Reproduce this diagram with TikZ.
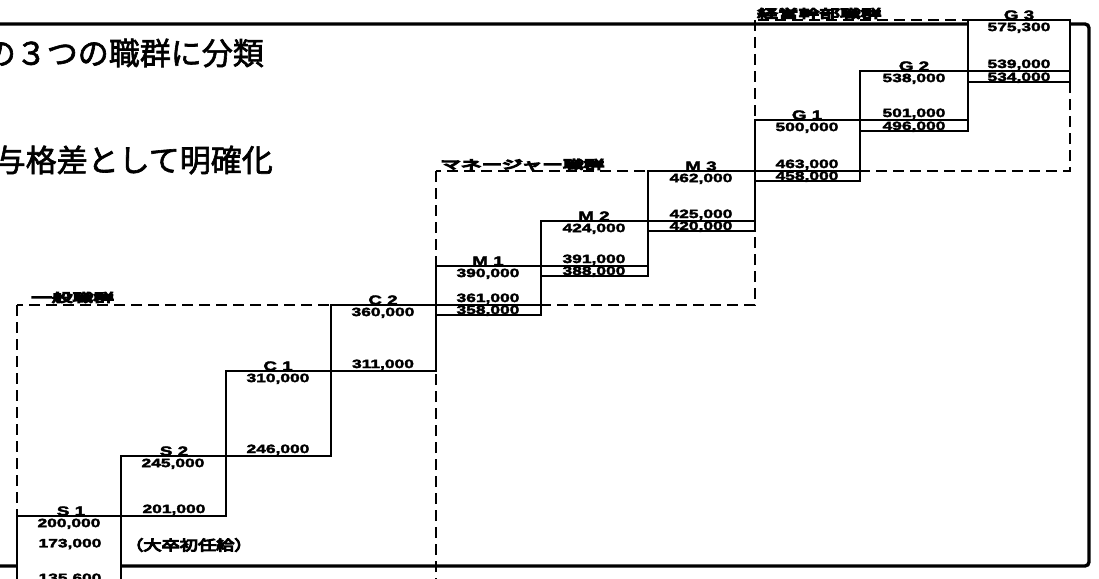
\documentclass[tikz,border=0pt]{standalone}
\usepackage{fontspec}
\newfontfamily\numfont[FakeStretch=1.45,FakeBold=3]{Liberation Sans}
\newfontfamily\jptitle[FakeBold=2]{Noto Sans CJK JP}
\newfontfamily\jpgrp[FakeStretch=1.8,FakeBold=12]{Noto Sans CJK JP}
\newfontfamily\jpnote[FakeStretch=1.3,FakeBold=8]{Noto Sans CJK JP}
\begin{document}
\begin{tikzpicture}[x=1pt,y=-1pt,
  frame/.style={draw=black,line width=3.4pt},
  grpbox/.style={draw=black,line width=2.6pt,dash pattern=on 11pt off 6pt},
  stepbox/.style={draw=black,fill=white,line width=2.9pt},
  innerline/.style={draw=black,line width=2.2pt},
  num/.style={font=\numfont\bfseries\fontsize{12}{12}\selectfont,inner sep=0pt},
  gradelbl/.style={font=\numfont\bfseries\fontsize{13}{13}\selectfont,inner sep=0pt,anchor=base},
  maxlbl/.style={num,anchor=north},
  minlbl/.style={num,anchor=base},
  grplbl/.style={font=\jpgrp\fontsize{11.5}{11.5}\selectfont,inner sep=0pt,anchor=south west},
  titlelbl/.style={font=\jptitle\fontsize{31}{31}\selectfont,inner sep=0pt,anchor=east},
  notelbl/.style={font=\jpnote\fontsize{14}{14}\selectfont,inner sep=0pt,anchor=west}]
\useasboundingbox (0,0) rectangle (1099,578);
\clip (0,0) rectangle (1099,578);
\fill[white] (0,0) rectangle (1099,578);

% title text (cut at left edge, as in the reference)
\node[titlelbl] (title1) at (264,53) {の３つの職群に分類};
\node[titlelbl] (title2) at (273,160) {与格差として明確化};

% outer frame
\draw[frame,rounded corners=4pt] (0,24) -- (1089,24) -- (1089,566) -- (0,566);

% group rectangles (dashed)
\draw[grpbox] (17,305) rectangle (436,620);
\draw[grpbox] (436,171) rectangle (755,305);
\draw[grpbox] (755,20) rectangle (1070,171);

% steps
\draw[stepbox] (17,516) rectangle (121,620);   % S1
\draw[stepbox] (121,456) rectangle (226,516);  % S2
\draw[stepbox] (226,371) rectangle (331,456);  % C1
\draw[stepbox] (331,305) rectangle (436,371);  % C2
\draw[stepbox] (436,266) rectangle (541,315);  % M1
\draw[innerline] (436,305) -- (541,305);
\draw[stepbox] (541,221) rectangle (648,276);  % M2
\draw[innerline] (541,266) -- (648,266);
\draw[stepbox] (648,171) rectangle (755,231);  % M3
\draw[innerline] (648,221) -- (755,221);
\draw[stepbox] (755,120) rectangle (860,181);  % G1
\draw[innerline] (755,171) -- (860,171);
\draw[stepbox] (860,71) rectangle (968,131);   % G2
\draw[innerline] (860,120) -- (968,120);
\draw[stepbox] (968,20) rectangle (1070,82);   % G3
\draw[innerline] (968,71) -- (1070,71);

% group labels
\node[grplbl] (g1) at (31,303) {一般職群};
\node[grplbl] (g2) at (440,170) {マネージャー職群};
\node[grplbl] (g3) at (757,19) {経営幹部職群};

% S1
\node[gradelbl] (s1) at (71,515.5) {S 1};
\node[maxlbl] (s1max) at (69,518.5) {200,000};
\node[num] (s1mid) at (70,544) {173,000};
\node[num,anchor=base] (s1min) at (70,582) {135,600};
\node[notelbl] (note) at (125,545) {（大卒初任給）};
% S2
\node[gradelbl] (s2) at (174,455.5) {S 2};
\node[maxlbl] (s2max) at (173,458.5) {245,000};
\node[minlbl] (s2min) at (174,513) {201,000};
% C1
\node[gradelbl] (c1) at (278,370.5) {C 1};
\node[maxlbl] (c1max) at (278,373.5) {310,000};
\node[minlbl] (c1min) at (278,453) {246,000};
% C2
\node[gradelbl] (c2) at (383,304.5) {C 2};
\node[maxlbl] (c2max) at (383,307.5) {360,000};
\node[minlbl] (c2min) at (383,368) {311,000};
% M1
\node[gradelbl] (m1) at (488,265.5) {M 1};
\node[maxlbl] (m1max) at (488,268.5) {390,000};
\node[minlbl] (m1a) at (488,302) {361,000};
\node[minlbl] (m1b) at (488,314) {358,000};
% M2
\node[gradelbl] (m2) at (594,220.5) {M 2};
\node[maxlbl] (m2max) at (594,223.5) {424,000};
\node[minlbl] (m2a) at (594,263) {391,000};
\node[minlbl] (m2b) at (594,275) {388,000};
% M3
\node[gradelbl] (m3) at (701,170.5) {M 3};
\node[maxlbl] (m3max) at (701,173.5) {462,000};
\node[minlbl] (m3a) at (701,218) {425,000};
\node[minlbl] (m3b) at (701,230) {420,000};
% G1
\node[gradelbl] (gr1) at (807,119.5) {G 1};
\node[maxlbl] (gr1max) at (807,122.5) {500,000};
\node[minlbl] (gr1a) at (807,168) {463,000};
\node[minlbl] (gr1b) at (807,180) {458,000};
% G2
\node[gradelbl] (gr2) at (914,70.5) {G 2};
\node[maxlbl] (gr2max) at (914,73.5) {538,000};
\node[minlbl] (gr2a) at (914,117) {501,000};
\node[minlbl] (gr2b) at (914,130) {496,000};
% G3
\node[gradelbl] (gr3) at (1019,19.5) {G 3};
\node[maxlbl] (gr3max) at (1019,22.5) {575,300};
\node[minlbl] (gr3a) at (1019,68) {539,000};
\node[minlbl] (gr3b) at (1019,81) {534,000};
\end{tikzpicture}
\end{document}
